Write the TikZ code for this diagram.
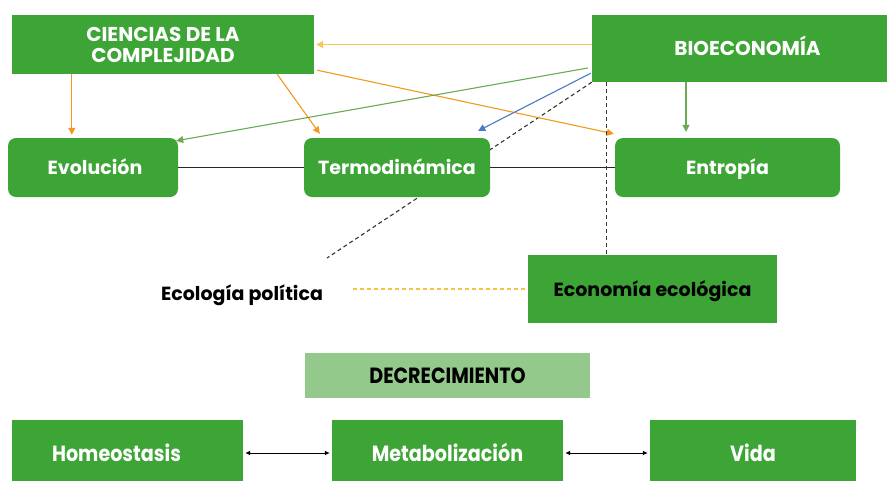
\documentclass[tikz,border=0pt]{standalone}
\usepackage{fontspec}
\setmainfont{Poppins}
\newfontfamily\condfont{Poppins}[FakeStretch=0.87]
\usetikzlibrary{arrows.meta,backgrounds}
\definecolor{gbox}{RGB}{61,165,53}
\definecolor{lgbox}{RGB}{147,201,138}
\definecolor{yarr}{RGB}{247,199,90}
\definecolor{oarr}{RGB}{243,151,30}
\definecolor{garr}{RGB}{106,170,80}
\definecolor{barr}{RGB}{74,122,196}
\definecolor{ydash}{RGB}{245,195,70}
\begin{document}
\begin{tikzpicture}[x=1pt,y=-1pt,
  sqbox/.style={fill=gbox,draw=none,text=white,font=\fontsize{19}{21}\selectfont\bfseries,inner sep=0pt,text height=18pt,text depth=4pt},
  rbox/.style={sqbox,rounded corners=8pt},
  blkbox/.style={fill=gbox,draw=none,text=black,font=\fontsize{19}{21}\selectfont\bfseries,inner sep=0pt,text height=18pt,text depth=4pt},
  botbox/.style={fill=gbox,draw=none,text=white,font=\fontsize{22}{24}\selectfont\condfont\bfseries,inner sep=0pt,text height=20pt,text depth=4pt},
  conn/.style={line width=1.1pt},
  tip/.style={-{Triangle[width=7pt,length=7pt]}},
  dbl/.style={{Latex[width=5pt,length=5pt]}-{Latex[width=5pt,length=5pt]},line width=1pt,black},
  dsh/.style={dashed,dash pattern=on 4pt off 3pt,line width=1.1pt}]
\useasboundingbox (0,0) rectangle (887,480);
\node[fill=gbox,text=white,font=\fontsize{20}{21}\selectfont\bfseries,align=center,inner sep=0pt,minimum width=302pt,minimum height=59pt] (cien) at (163,44.5) {CIENCIAS DE LA\\COMPLEJIDAD};
\node[sqbox,font=\fontsize{20}{21}\selectfont\bfseries,minimum width=295pt,minimum height=67pt] (bio) at (739.5,48.5) {\hspace*{16pt}BIOECONOMÍA};
\node[rbox,minimum width=170pt,minimum height=59pt] (evo) at (93,167.5) {\hspace*{4pt}Evolución};
\node[rbox,minimum width=186pt,minimum height=59pt] (ter) at (397,167.5) {Termodinámica};
\node[rbox,minimum width=225pt,minimum height=59pt] (ent) at (727.5,167.5) {Entropía};
\node[blkbox,minimum width=249pt,minimum height=68pt] (eco) at (652.5,289) {Economía ecológica};
\node[font=\fontsize{19}{21}\selectfont\bfseries,inner sep=0pt,text height=18pt,text depth=4pt] (pol) at (242,293) {Ecología política};
\node[fill=lgbox,text=black,font=\fontsize{22}{24}\selectfont\condfont\bfseries,inner sep=0pt,text height=20pt,text depth=4pt,minimum width=285pt,minimum height=45pt] (dec) at (447.5,375.5) {DECRECIMIENTO};
\node[botbox,minimum width=231pt,minimum height=66pt] (hom) at (127.5,453) {\hspace*{-22pt}Homeostasis};
\node[botbox,minimum width=231pt,minimum height=66pt] (met) at (447.5,453) {Metabolización};
\node[botbox,minimum width=206pt,minimum height=66pt] (vida) at (753,453) {Vida};
\coordinate (polend) at ([xshift=85pt,yshift=35pt]pol.center);
\coordinate (polr) at ([xshift=111pt,yshift=4pt]pol.center);
\begin{scope}[on background layer]
\draw[dsh,black!80] (bio.south west) -- (polend);
\draw[line width=1.1pt,black!85] (evo.east) -- (ter.west);
\draw[line width=1.1pt,black!85] (ter.east) -- (ent.west);
\end{scope}
\draw[conn,yarr,tip] (bio.west |- cien.east) -- ([xshift=2pt]cien.east);
\draw[conn,oarr,tip] ([xshift=60pt]cien.south west) -- ([xshift=60pt,yshift=3pt]cien.south west |- evo.north);
\draw[conn,oarr,tip] ([xshift=-37pt]cien.south east) -- ([xshift=16pt,yshift=4pt]ter.north west);
\draw[conn,oarr,tip] ([xshift=3pt,yshift=4pt]cien.south east) -- ([xshift=-1pt,yshift=4pt]ent.north west);
\draw[conn,garr,tip] ([xshift=-4pt,yshift=-19.5pt]bio.west) -- ([xshift=-2pt,yshift=-3pt]evo.north east);
\draw[conn,barr,tip] ([xshift=-1pt,yshift=9pt]bio.south west) -- ([xshift=-12pt,yshift=7pt]ter.north east);
\draw[conn,garr,tip] ([xshift=-53.5pt]bio.south) -- ([xshift=-53.5pt,yshift=6pt]bio.south |- ent.north);
\draw[dsh,black!80] ([xshift=15pt]bio.south west) -- ([xshift=15pt]bio.south west |- eco.north);
\draw[dsh,ydash] (polr) -- ([xshift=-3pt]eco.west);
\draw[dbl,shorten <=2pt,shorten >=2pt] (hom.east) -- (met.west);
\draw[dbl,shorten <=2pt,shorten >=2pt] (met.east) -- (vida.west);
\end{tikzpicture}
\end{document}
